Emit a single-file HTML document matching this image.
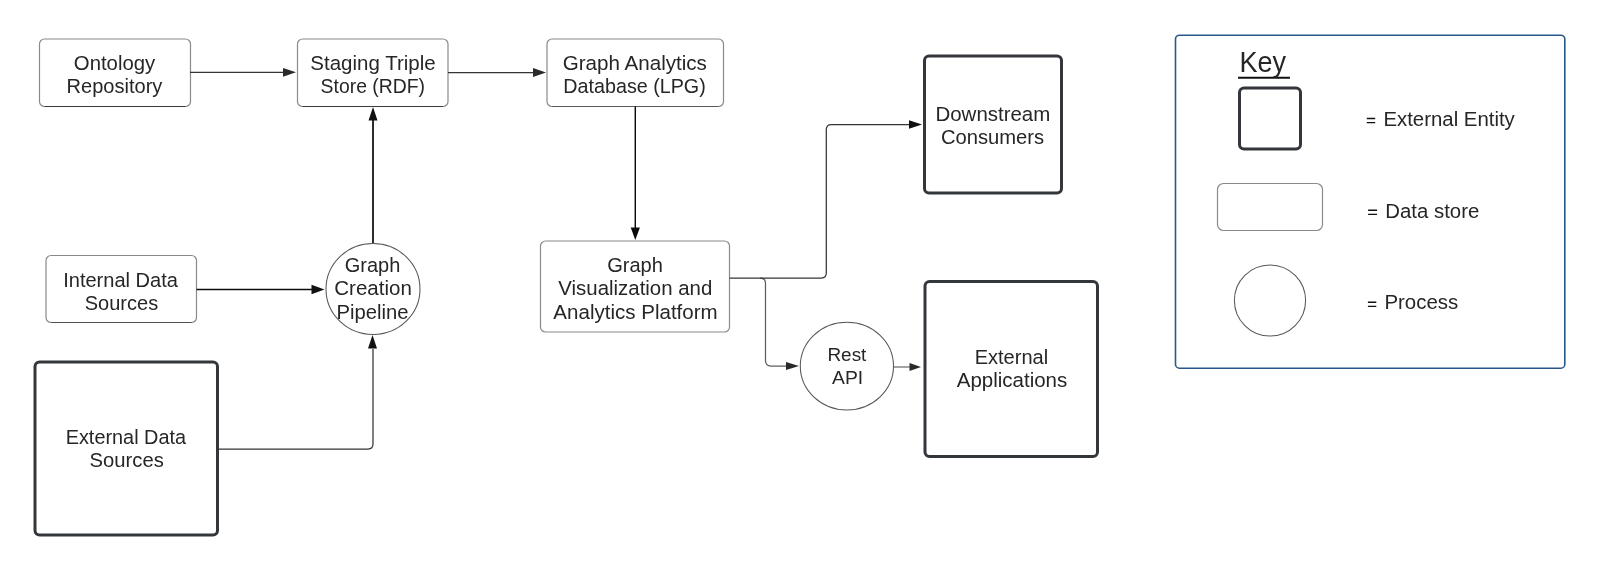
<!DOCTYPE html>
<html><head><meta charset="utf-8"><style>
html,body{margin:0;padding:0;background:#fff;width:1600px;height:571px;overflow:hidden}
svg{display:block;will-change:transform}
text{font-family:"Liberation Sans",sans-serif}
</style></head><body>
<svg width="1600" height="571" viewBox="0 0 1600 571">
<rect width="1600" height="571" fill="#fff"/>

<rect x="39.5" y="39" width="151" height="67.5" rx="5" fill="#fff" stroke="#8a8a8a" stroke-width="1.2"/>
<rect x="297.5" y="39" width="150.5" height="67.5" rx="5" fill="#fff" stroke="#8a8a8a" stroke-width="1.2"/>
<rect x="547" y="39" width="176.5" height="67.5" rx="5" fill="#fff" stroke="#8a8a8a" stroke-width="1.2"/>
<rect x="46" y="255.5" width="150.5" height="67" rx="5" fill="#fff" stroke="#8a8a8a" stroke-width="1.2"/>
<rect x="540.5" y="241" width="189" height="91" rx="5" fill="#fff" stroke="#8a8a8a" stroke-width="1.2"/>
<path d="M44.5 106.5 H185.5" stroke="#3a3a3a" stroke-width="1.2"/>
<path d="M302.5 106.5 H443" stroke="#3a3a3a" stroke-width="1.2"/>
<path d="M552 106.5 H718.5" stroke="#5a5a5a" stroke-width="1.2"/>
<path d="M51 322.5 H191.5" stroke="#505050" stroke-width="1.2"/>
<rect x="924.5" y="56" width="137" height="137" rx="4.5" fill="#fff" stroke="#33363b" stroke-width="3"/>
<rect x="925" y="281.5" width="172.5" height="175" rx="4.5" fill="#fff" stroke="#33363b" stroke-width="3"/>
<rect x="35" y="362" width="182.5" height="173" rx="4.5" fill="#fff" stroke="#33363b" stroke-width="3"/>
<ellipse cx="373" cy="289" rx="47" ry="45.5" fill="#fff" stroke="#585858" stroke-width="1.05"/>
<ellipse cx="846.9" cy="366.1" rx="46.6" ry="43.9" fill="#fff" stroke="#585858" stroke-width="1.05"/>

<rect x="1175.5" y="35.2" width="389.3" height="333" rx="4" fill="none" stroke="#28588a" stroke-width="1.6"/>
<rect x="1239.5" y="88" width="61" height="61" rx="4.5" fill="#fff" stroke="#33363b" stroke-width="3"/>
<rect x="1217.5" y="183.5" width="105" height="47" rx="6" fill="#fff" stroke="#8a8a8a" stroke-width="1.2"/>
<circle cx="1270" cy="300.5" r="35.6" fill="#fff" stroke="#585858" stroke-width="1.05"/>
<path d="M1366.8 118.5 H1375.2 M1366.8 122.6 H1375.2 M1368.1 210.3 H1377.1 M1368.1 214.4 H1377.1 M1367.9 302.2 H1376.3 M1367.9 306.4 H1376.3" stroke="#111" stroke-width="1.4"/>
<line x1="1238" y1="77.8" x2="1290" y2="77.8" stroke="#111" stroke-width="1.9"/>

<path d="M190 72.3 H284" fill="none" stroke="#353535" stroke-width="1.25"/>
<path d="M296 72.3 L283 67.89999999999999 L283 76.7 Z" fill="#2a2a2a"/>
<path d="M448 72.5 H533" fill="none" stroke="#353535" stroke-width="1.25"/>
<path d="M546 72.5 L533 68.1 L533 76.9 Z" fill="#2a2a2a"/>
<path d="M635.3 106.5 V228" fill="none" stroke="#0a0a0a" stroke-width="1.45"/>
<path d="M635.3 240 L630.6999999999999 227.5 L639.9 227.5 Z" fill="#0a0a0a"/>
<path d="M196.5 289.5 H312" fill="none" stroke="#0d0d0d" stroke-width="1.7"/>
<path d="M324.5 289.5 L311.5 284.8 L311.5 294.2 Z" fill="#111"/>
<path d="M373 243 V120" fill="none" stroke="#161616" stroke-width="1.8"/>
<path d="M373 107 L368.5 120.5 L377.5 120.5 Z" fill="#111"/>
<path d="M217.5 449 H368 Q373 449 373 444 V349" fill="none" stroke="#353535" stroke-width="1.25"/>
<path d="M372.5 335 L368.0 348.5 L377.0 348.5 Z" fill="#111"/>
<path d="M729.5 278 H821.3 Q826.3 278 826.3 273 V129.5 Q826.3 124.5 831.3 124.5 H910" fill="none" stroke="#353535" stroke-width="1.25"/>
<path d="M922 124.5 L909 120.2 L909 128.8 Z" fill="#111"/>
<path d="M760 278 Q765.5 278 765.5 283.5 V360.5 Q765.5 366 771 366 H787" fill="none" stroke="#353535" stroke-width="1.25" stroke-opacity="0.8"/>
<path d="M799 366 L786 361.9 L786 370.1 Z" fill="#2a2a2a"/>
<path d="M894 367 H910" fill="none" stroke="#9a9a9a" stroke-width="1.8"/>
<path d="M921 367 L909.5 362.9 L909.5 371.1 Z" fill="#2a2a2a"/>

<text x="73.82" y="70.48" font-size="19.3" textLength="81.43" lengthAdjust="spacingAndGlyphs" fill="#262626" >Ontology</text>
<text x="66.54" y="93.48" font-size="19.3" textLength="95.80" lengthAdjust="spacingAndGlyphs" fill="#262626" >Repository</text>
<text x="310.34" y="70.24" font-size="19.3" textLength="125.32" lengthAdjust="spacingAndGlyphs" fill="#262626" >Staging Triple</text>
<text x="320.58" y="93.00" font-size="19.3" textLength="104.50" lengthAdjust="spacingAndGlyphs" fill="#262626" >Store (RDF)</text>
<text x="562.68" y="70.10" font-size="19.3" textLength="144.23" lengthAdjust="spacingAndGlyphs" fill="#262626" >Graph Analytics</text>
<text x="563.30" y="93.10" font-size="19.3" textLength="142.49" lengthAdjust="spacingAndGlyphs" fill="#262626" >Database (LPG)</text>
<text x="607.20" y="271.86" font-size="19.3" textLength="55.75" lengthAdjust="spacingAndGlyphs" fill="#262626" >Graph</text>
<text x="558.34" y="295.10" font-size="19.3" textLength="153.97" lengthAdjust="spacingAndGlyphs" fill="#262626" >Visualization and</text>
<text x="553.38" y="318.62" font-size="19.3" textLength="164.33" lengthAdjust="spacingAndGlyphs" fill="#262626" >Analytics Platform</text>
<text x="63.16" y="287.00" font-size="19.3" textLength="114.83" lengthAdjust="spacingAndGlyphs" fill="#262626" >Internal Data</text>
<text x="84.72" y="310.00" font-size="19.3" textLength="73.43" lengthAdjust="spacingAndGlyphs" fill="#262626" >Sources</text>
<text x="65.68" y="443.76" font-size="19.3" textLength="120.41" lengthAdjust="spacingAndGlyphs" fill="#262626" >External Data</text>
<text x="89.58" y="466.76" font-size="19.3" textLength="74.23" lengthAdjust="spacingAndGlyphs" fill="#262626" >Sources</text>
<text x="935.44" y="121.24" font-size="19.3" textLength="114.88" lengthAdjust="spacingAndGlyphs" fill="#262626" >Downstream</text>
<text x="940.96" y="144.48" font-size="19.3" textLength="103.18" lengthAdjust="spacingAndGlyphs" fill="#262626" >Consumers</text>
<text x="974.68" y="363.76" font-size="19.3" textLength="73.51" lengthAdjust="spacingAndGlyphs" fill="#262626" >External</text>
<text x="956.76" y="386.52" font-size="19.3" textLength="110.52" lengthAdjust="spacingAndGlyphs" fill="#262626" >Applications</text>
<text x="344.82" y="271.86" font-size="19.3" textLength="55.51" lengthAdjust="spacingAndGlyphs" fill="#262626" >Graph</text>
<text x="334.30" y="295.10" font-size="19.3" textLength="77.54" lengthAdjust="spacingAndGlyphs" fill="#262626" >Creation</text>
<text x="336.54" y="318.76" font-size="19.3" textLength="72.02" lengthAdjust="spacingAndGlyphs" fill="#262626" >Pipeline</text>
<text x="827.44" y="360.62" font-size="18.3" textLength="38.94" lengthAdjust="spacingAndGlyphs" fill="#262626" >Rest</text>
<text x="832.00" y="384.24" font-size="18.3" textLength="31.12" lengthAdjust="spacingAndGlyphs" fill="#262626" >API</text>
<text x="1383.40" y="126.00" font-size="20.0" textLength="131.41" lengthAdjust="spacingAndGlyphs" fill="#262626" >External Entity</text>
<text x="1385.30" y="217.60" font-size="20.0" textLength="94.01" lengthAdjust="spacingAndGlyphs" fill="#262626" >Data store</text>
<text x="1384.40" y="309.00" font-size="19.6" textLength="73.81" lengthAdjust="spacingAndGlyphs" fill="#262626" >Process</text>
<text x="1239.40" y="71.52" font-size="29.5" textLength="46.60" lengthAdjust="spacingAndGlyphs" fill="#262626" >Key</text>
</svg>
</body></html>
